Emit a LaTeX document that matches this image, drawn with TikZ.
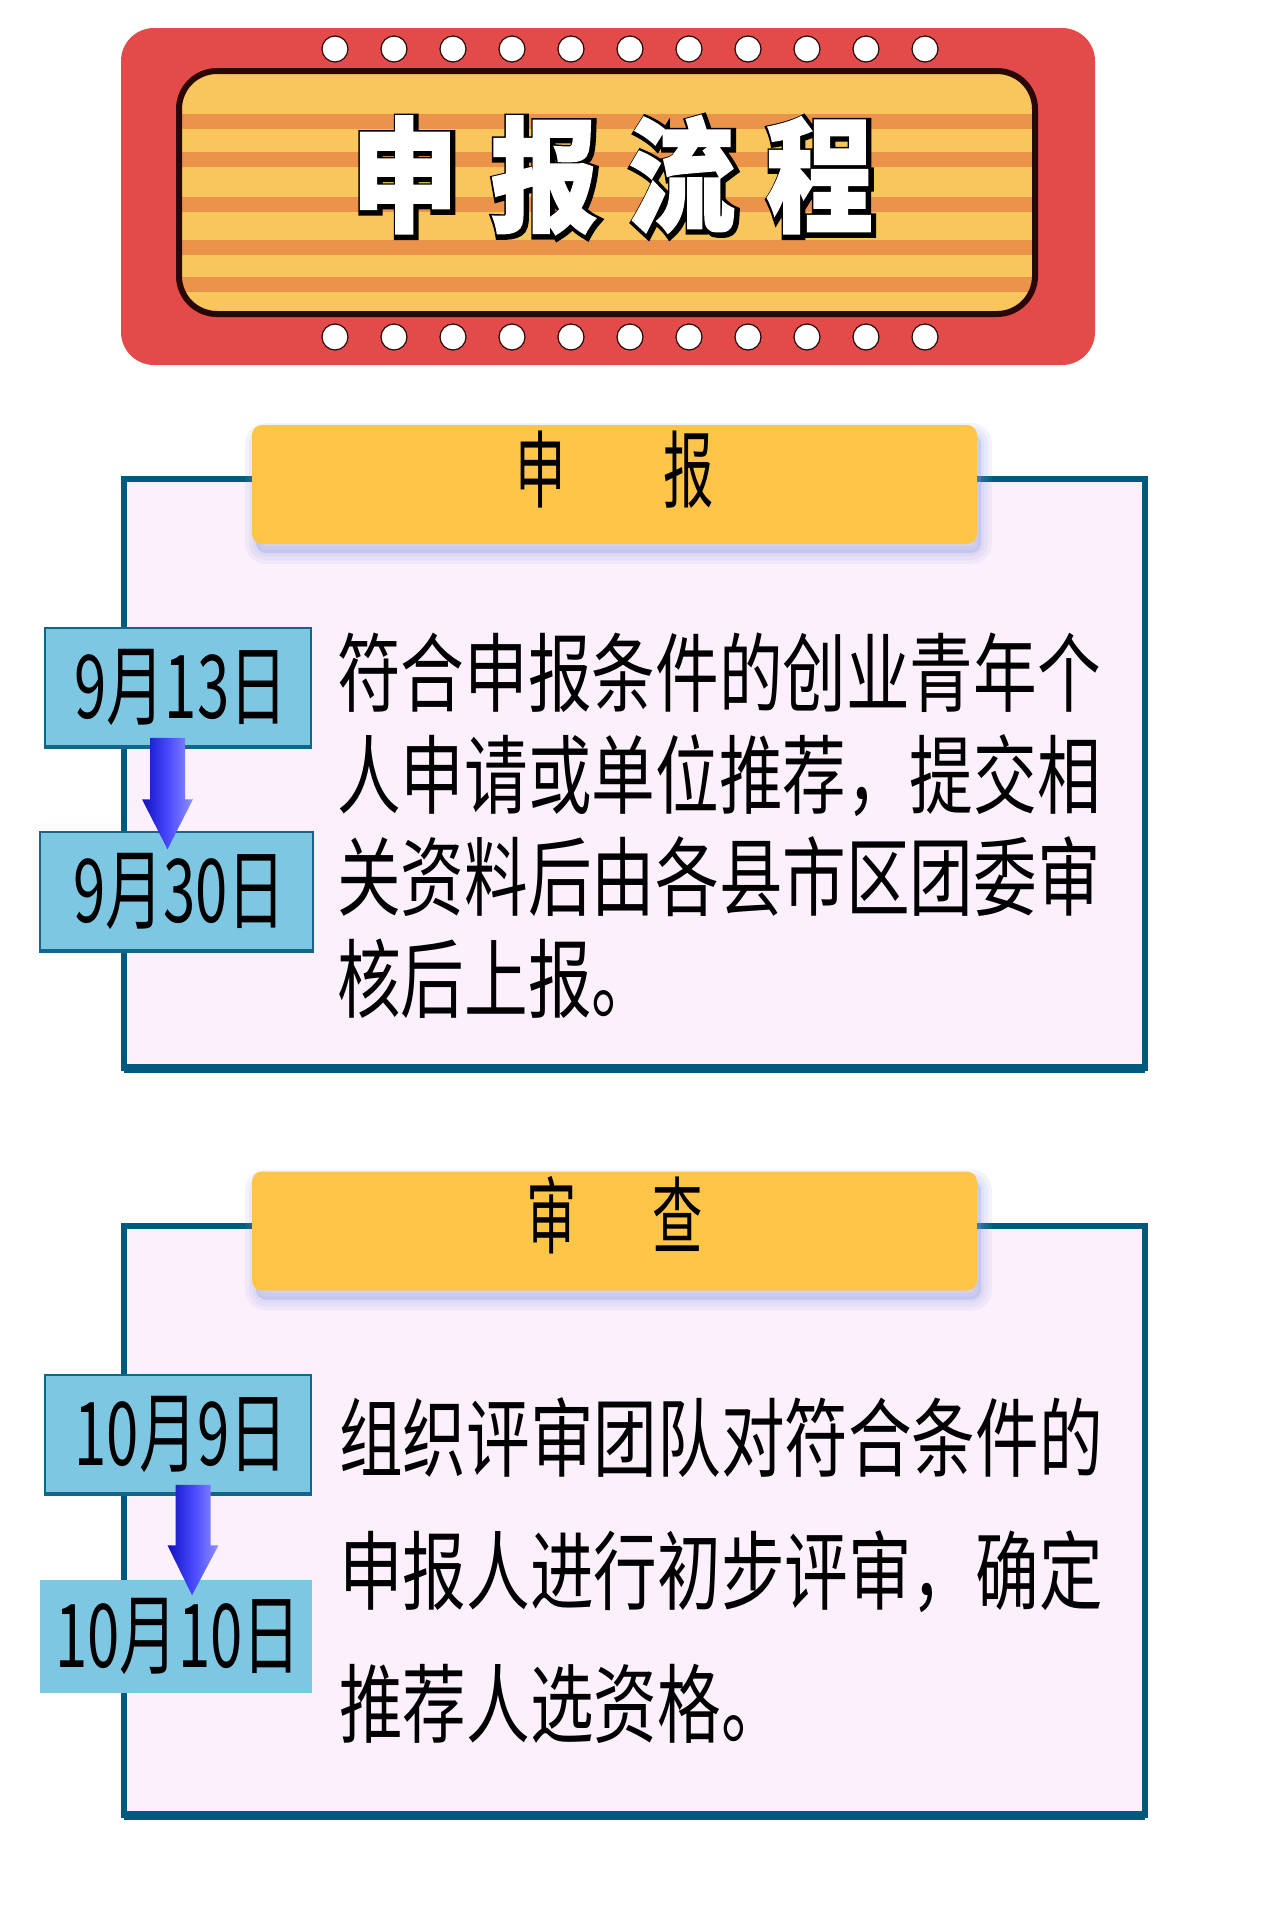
\documentclass[tikz,border=0pt]{standalone}
\usepackage{fontspec}
\usetikzlibrary{calc}
\newfontfamily\cjk[FakeStretch=0.86]{Noto Sans CJK SC}
\newfontfamily\cjkbody[FakeStretch=0.74]{Noto Sans CJK SC}
\newfontfamily\cjkhead[FakeStretch=0.6]{Noto Sans CJK SC}
\newfontfamily\cjkdate[FakeStretch=0.66]{Noto Sans CJK SC}
\definecolor{titlered}{HTML}{E34B4B}
\definecolor{titleyellow}{HTML}{F8C65C}
\definecolor{titlestripe}{HTML}{EC934B}
\definecolor{titleline}{HTML}{2A0606}
\definecolor{secline}{HTML}{005A7E}
\definecolor{secfill}{HTML}{FCF0FC}
\definecolor{tabfill}{HTML}{FEC548}
\definecolor{tabshadow}{HTML}{8E9BE0}
\definecolor{datefill}{HTML}{7EC7E3}
\definecolor{dateline}{HTML}{13668A}
\definecolor{arrowdark}{HTML}{1010C0}
\definecolor{arrowmid}{HTML}{4848FF}
\definecolor{arrowlight}{HTML}{9090FF}
\newcommand\titlechars{申\hspace{33pt}报\hspace{31pt}流\hspace{31pt}程}
\newcommand\fatarrow[2]{%
  \path[fatarrow] let \p1=(#1), \p2=(#2) in
    (\x1-17.5pt,\y1) -- (\x1+17.5pt,\y1) -- (\x1+17.5pt,\y2+50pt)
    -- (\x1+25.5pt,\y2+50pt) -- (\x2,\y2) -- (\x1-25.5pt,\y2+50pt)
    -- (\x1-17.5pt,\y2+50pt) -- cycle;}
\begin{document}
\begin{tikzpicture}
[
    x=1pt, y=-1pt,
    dot/.style={circle, fill=white, draw=titleline, line width=1.2pt, minimum size=26pt, inner sep=0pt},
    titletext/.style={inner sep=0pt, text=white, font=\cjk\bfseries\fontsize{124pt}{124pt}\selectfont\addfontfeature{FakeBold=1.5}},
    titleback/.style={inner sep=0pt, text=black, font=\cjk\bfseries\fontsize{124pt}{124pt}\selectfont\addfontfeature{FakeBold=7}},
    secbox/.style={draw=secline, fill=secfill, line width=6pt, inner sep=0pt, minimum width=1021pt, minimum height=589pt},
    softshadow/.style={preaction={fill=tabshadow, draw=tabshadow, opacity=0.1, line width=#1, transform canvas={xshift=4pt, yshift=-9pt}}},
    tab/.style={fill=tabfill, rounded corners=10pt, minimum width=725pt, minimum height=119pt, inner sep=0pt,
        softshadow=22pt, softshadow=14pt, softshadow=6pt},
    tabtext/.style={inner sep=0pt, font=\cjkhead\fontsize{84pt}{84pt}\selectfont},
    datebox/.style={fill=datefill, draw=dateline, line width=1.5pt, minimum height=118pt, inner sep=0pt,
        font=\cjkdate\fontsize{88pt}{88pt}\selectfont},
    bodytext/.style={anchor=north west, align=left, inner sep=0pt},
    fatarrow/.style={left color=arrowdark, right color=arrowlight, middle color=arrowmid},
]
\fill[white] (0,0) rectangle (1280,1920);
\useasboundingbox (0,0) rectangle (1280,1920);

\fill[titlered, rounded corners=33pt] (121,28) rectangle (1095,365);
\begin{scope}
\clip[rounded corners=38pt] (179,71) rectangle (1035,314);
\fill[titleyellow] (170,60) rectangle (1045,325);
\foreach \s in {114,152,197,240,277}
    \fill[titlestripe] (170,\s) rectangle (1045,\s+15);
\end{scope}
\draw[titleline, line width=6pt, rounded corners=38pt] (179,71) rectangle (1035,314);
\foreach \i in {0,...,10}
{
    \node[dot] (dt\i) at (335+59*\i,49) {};
    \node[dot] (db\i) at (335+59*\i,337) {};
}
\node[titleback] (titleshade) at (614,177) {\titlechars};
\node[titletext] (title) at (612,175) {\titlechars};

\node[secbox] (sec1) at (634.5,773.5) {};
\draw[secline, line width=9pt] ($(sec1.south west)+(3,-2.5)$) -- ($(sec1.south east)+(-3,-2.5)$);
\node[tab] (tab1) at (614.5,484.5) {};
\node[tabtext] (head1) at ($(tab1.center)+(0,-15)$) {申\hspace{98pt}报};
\node[datebox, minimum width=266pt] (d1) at (178,687) {\hspace{6pt}9月13日};
\draw[dateline, line width=4pt] (d1.south west) -- (d1.south east);
\node[datebox, minimum width=273pt] (d2) at (176.5,891) {\hspace{6pt}9月30日};
\draw[dateline, line width=4pt] (d2.south west) -- (d2.south east);
\coordinate (a1s) at ($(d1.south)+(-10.5,-9)$);
\coordinate (a1e) at ($(d2.north)+(-9,18)$);
\fatarrow{a1s}{a1e}
\node[bodytext, font=\cjkbody\fontsize{86pt}{102pt}\selectfont] (body1) at (337,633)
    {符合申报条件的创业青年个\\人申请或单位推荐，提交相\\关资料后由各县市区团委审\\核后上报。};

\node[secbox] (sec2) at (634.5,1520) {};
\draw[secline, line width=9pt] ($(sec2.south west)+(3,-2.5)$) -- ($(sec2.south east)+(-3,-2.5)$);
\node[tab] (tab2) at (614.5,1231) {};
\node[tabtext] (head2) at ($(tab2.center)+(0,-16)$) {审\hspace{76pt}查};
\node[datebox, minimum width=266pt] (d3) at (178,1434) {\hspace{6pt}10月9日};
\draw[dateline, line width=4pt] (d3.south west) -- (d3.south east);
\node[datebox, minimum width=272pt, minimum height=113pt, draw=none] (d4) at (176,1636.5) {\hspace{4pt}10月10日};
\coordinate (a2s) at ($(d3.south)+(15,-9)$);
\coordinate (a2e) at ($(d4.north)+(16,16)$);
\fatarrow{a2s}{a2e}
\node[bodytext, font=\cjkbody\fontsize{86pt}{133pt}\selectfont] (body2) at (339,1397)
    {组织评审团队对符合条件的\\申报人进行初步评审，确定\\推荐人选资格。};
\end{tikzpicture}
\end{document}
